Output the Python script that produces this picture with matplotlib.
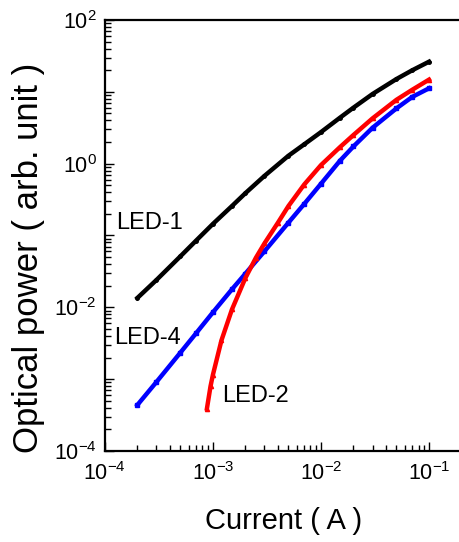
import numpy as np
import matplotlib
matplotlib.use("Agg")
import matplotlib.pyplot as plt
from matplotlib.ticker import LogLocator, NullFormatter

plt.rcParams['font.family'] = ['Liberation Sans', 'DejaVu Sans']
plt.rcParams['mathtext.fontset'] = 'custom'
plt.rcParams['mathtext.rm'] = 'Liberation Sans'
plt.rcParams['mathtext.it'] = 'Liberation Sans:italic'

# current (A) vs optical power (arb. unit)
current = [2e-4, 3e-4, 5e-4, 7e-4, 1e-3, 1.5e-3, 2e-3, 3e-3, 5e-3, 7e-3,
           1e-2, 1.5e-2, 2e-2, 3e-2, 5e-2, 7e-2, 1e-1]
led1 = [0.0135, 0.024, 0.0513, 0.0851, 0.145, 0.257, 0.389, 0.676, 1.29, 1.86,
        2.75, 4.37, 6.03, 9.33, 15.1, 20.0, 26.3]
led4 = [4.37e-4, 9.12e-4, 2.34e-3, 4.37e-3, 8.51e-3, 0.0178, 0.0295, 0.0603, 0.151, 0.275,
        0.525, 1.10, 1.74, 3.16, 5.89, 8.51, 11.2]

current2 = [8.8e-4, 9.5e-4, 1e-3, 1.2e-3, 1.5e-3, 2e-3, 2.5e-3, 3e-3, 4e-3, 5e-3,
            7e-3, 1e-2, 1.5e-2, 2e-2, 3e-2, 5e-2, 7e-2, 1e-1]
led2 = [3.89e-4, 7.94e-4, 1.15e-3, 3.47e-3, 9.33e-3, 0.0257, 0.049, 0.0776, 0.151, 0.257,
        0.513, 0.955, 1.70, 2.51, 4.27, 7.76, 10.7, 14.8]

fig = plt.figure(figsize=(4.6, 5.42), dpi=100)
ax = fig.add_axes([0.228, 0.168, 0.772, 0.795])

ax.plot(current, led1, color='black', lw=3.2, marker='o', ms=2.5)
ax.plot(current, led4, color='#0000ff', lw=3.2, marker='s', ms=2.5)
ax.plot(current2, led2, color='#ff0000', lw=3.2, marker='^', ms=3)

ax.set_xscale('log')
ax.set_yscale('log')
ax.set_xlim(1e-4, 0.1936)
ax.set_ylim(1e-4, 1e2)

ax.set_xticks([1e-4, 1e-3, 1e-2, 1e-1])
ax.set_xticklabels([r'$10^{-4}$', r'$10^{-3}$', r'$10^{-2}$', r'$10^{-1}$'])
ax.set_yticks([1e-4, 1e-3, 1e-2, 1e-1, 1e0, 1e1, 1e2])
ax.set_yticklabels([r'$10^{-4}$', '', r'$10^{-2}$', '', r'$10^{0}$', '', r'$10^{2}$'])
ax.xaxis.set_minor_locator(LogLocator(base=10, subs=np.arange(2, 10), numticks=20))
ax.yaxis.set_minor_locator(LogLocator(base=10, subs=np.arange(2, 10), numticks=20))
ax.xaxis.set_minor_formatter(NullFormatter())
ax.yaxis.set_minor_formatter(NullFormatter())

ax.tick_params(which='both', direction='in', top=False, right=False, labelsize=15.5)
ax.tick_params(which='major', length=6.5, width=1.0)
ax.tick_params(which='minor', length=4, width=1.0)
ax.tick_params(axis='x', pad=8)
ax.tick_params(axis='y', pad=6)

ax.spines['right'].set_visible(False)
for s in ['top', 'left', 'bottom']:
    ax.spines[s].set_linewidth(1.6)

ax.set_xlabel('Current ( A )', fontsize=21)
ax.xaxis.set_label_coords(0.504, -0.130)
ax.set_ylabel('Optical power ( arb. unit )', fontsize=25)
ax.yaxis.set_label_coords(-0.170, 0.447)

ax.text(0.031, 0.529, 'LED-1', transform=ax.transAxes, fontsize=17, va='center')
ax.text(0.025, 0.262, 'LED-4', transform=ax.transAxes, fontsize=17, va='center')
ax.text(0.330, 0.128, 'LED-2', transform=ax.transAxes, fontsize=17, va='center')

fig.savefig('out.png', dpi=100)
